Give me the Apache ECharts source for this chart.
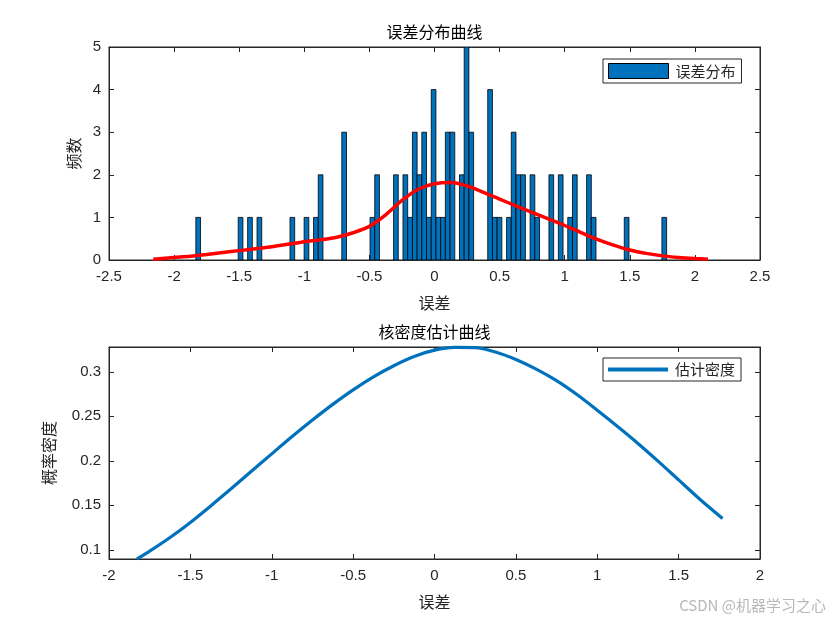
<!DOCTYPE html>
<html><head><meta charset="utf-8">
<script src="https://cdn.jsdelivr.net/npm/echarts@6/dist/echarts.min.js"></script>
<style>html,body{margin:0;padding:0;background:#fff}#c{width:840px;height:630px}</style>
</head><body><div id="c"></div>
<script>
// Histogram (误差分布): bin centers and counts
const binCenters = [-1.815, -1.4896, -1.4172, -1.3449, -1.0918, -0.9833, -0.911, -0.8748, -0.694, -0.4771, -0.4409, -0.2963, -0.224, -0.1878, -0.1516, -0.1155, -0.0793, -0.0432, -0.007, 0.0292, 0.0653, 0.1015, 0.1376, 0.21, 0.2461, 0.2823, 0.4269, 0.4631, 0.4992, 0.5716, 0.6077, 0.6439, 0.68, 0.7524, 0.7885, 0.897, 0.9693, 1.0416, 1.0778, 1.1863, 1.2224, 1.4756, 1.7648];
const binCounts  = [1, 1, 1, 1, 1, 1, 1, 2, 3, 1, 2, 2, 2, 1, 3, 2, 3, 1, 4, 1, 1, 3, 3, 2, 5, 3, 4, 1, 1, 1, 3, 2, 2, 2, 1, 2, 2, 1, 2, 2, 1, 1, 1];
const binWidth = 0.03616;

// Red fitted curve (top chart)
const fitX = [-2.16, -2.0, -1.875, -1.75, -1.625, -1.5, -1.375, -1.25, -1.125, -1.0, -0.875, -0.75, -0.625, -0.5, -0.375, -0.25, -0.125, 0.0, 0.125, 0.25, 0.375, 0.5, 0.625, 0.75, 0.875, 1.0, 1.125, 1.25, 1.375, 1.5, 1.625, 1.75, 1.875, 2.0, 2.1];
const fitY = [0.02, 0.06, 0.09, 0.13, 0.175, 0.22, 0.265, 0.31, 0.37, 0.43, 0.475, 0.535, 0.64, 0.79, 1.06, 1.40, 1.66, 1.79, 1.82, 1.74, 1.59, 1.43, 1.27, 1.115, 0.965, 0.81, 0.645, 0.485, 0.35, 0.235, 0.155, 0.097, 0.06, 0.035, 0.02];

// Kernel density (bottom chart)
const densX = [-1.829, -1.75, -1.625, -1.5, -1.375, -1.25, -1.125, -1.0, -0.875, -0.75, -0.625, -0.5, -0.375, -0.25, -0.125, 0.0, 0.125, 0.25, 0.375, 0.5, 0.625, 0.75, 0.875, 1.0, 1.125, 1.25, 1.375, 1.5, 1.625, 1.77];
const densY = [0.0897, 0.0986, 0.1139, 0.1308, 0.1493, 0.1686, 0.1882, 0.2078, 0.2272, 0.2458, 0.2634, 0.2797, 0.2943, 0.3068, 0.3171, 0.3243, 0.3274, 0.3272, 0.3222, 0.3138, 0.303, 0.29, 0.2744, 0.2568, 0.2385, 0.2195, 0.1994, 0.1785, 0.1577, 0.1352];

const densTicks = [0.1, 0.15, 0.2, 0.25, 0.3];

const AX = '#262626';
const LAT = '"Liberation Sans", Arial, sans-serif';
const CJK = '"Noto Sans CJK SC", sans-serif';

function xAx(grid, min, max, pos, name) {
  return {
    type: 'value', gridIndex: grid, min: min, max: max, interval: 0.5, position: pos,
    axisLine: { show: true, onZero: false, lineStyle: { color: AX, width: 1 } },
    axisTick: { show: true, inside: true, length: 5, lineStyle: { color: AX } },
    axisLabel: { show: pos === 'bottom', color: AX, fontSize: 15, fontFamily: LAT, margin: 9 },
    splitLine: { show: false },
    name: name || '', nameLocation: 'middle', nameGap: 35,
    nameTextStyle: { fontSize: 16, color: AX, fontFamily: CJK }
  };
}
function yAx(grid, min, max, pos, name, opts) {
  const a = {
    type: 'value', gridIndex: grid, min: min, max: max, position: pos,
    axisLine: { show: true, onZero: false, lineStyle: { color: AX, width: 1 } },
    axisTick: { show: true, inside: true, length: 5, lineStyle: { color: AX } },
    axisLabel: { show: pos === 'left', color: AX, fontSize: 15, fontFamily: LAT, margin: 8 },
    splitLine: { show: false },
    name: name || '', nameLocation: 'middle', nameRotate: 90,
    nameTextStyle: { fontSize: 16, color: AX, fontFamily: CJK }
  };
  return Object.assign(a, opts || {});
}

const chart = echarts.init(document.getElementById('c'), null, { renderer: 'canvas' });
chart.setOption({
  backgroundColor: '#fff',
  animation: false,
  title: [
    { text: '误差分布曲线', left: 434.5, textAlign: 'center', top: 24, padding: 0,
      textStyle: { fontSize: 16, fontWeight: 'normal', color: '#000', fontFamily: CJK } },
    { text: '核密度估计曲线', left: 434.5, textAlign: 'center', top: 324, padding: 0,
      textStyle: { fontSize: 16, fontWeight: 'normal', color: '#000', fontFamily: CJK } }
  ],
  legend: [
    { data: [{ name: '误差分布', icon: 'rect', itemStyle: { color: '#0072BD', borderColor: '#000', borderWidth: 1 } }],
      left: 603, top: 59, orient: 'vertical', itemWidth: 60, itemHeight: 15, itemGap: 5,
      padding: [4, 6, 4, 5], borderColor: '#262626', borderWidth: 1, backgroundColor: '#fff',
      textStyle: { fontSize: 15, color: AX, fontFamily: CJK, padding: [0, 0, 0, 2] } },
    { data: [{ name: '估计密度', icon: 'rect', itemStyle: { color: '#0072BD' } }],
      left: 603, top: 358, orient: 'vertical', itemWidth: 60, itemHeight: 4, itemGap: 5,
      padding: [4, 6, 4, 5], borderColor: '#262626', borderWidth: 1, backgroundColor: '#fff',
      textStyle: { fontSize: 15, color: AX, fontFamily: CJK, padding: [0, 0, 0, 2] } }
  ],
  graphic: [
    { type: 'text', right: 14, top: 598, silent: true,
      style: { text: 'CSDN @机器学习之心', fill: '#b8b8b8', font: '15px "Noto Sans CJK SC", sans-serif' } }
  ],
  grid: [
    { left: 109, top: 47, width: 651, height: 213, show: true, borderColor: AX, borderWidth: 1, backgroundColor: '#fff' },
    { left: 109, top: 347, width: 651, height: 212, show: true, borderColor: AX, borderWidth: 1, backgroundColor: '#fff' }
  ],
  xAxis: [
    xAx(0, -2.5, 2.5, 'bottom', '误差'),
    xAx(0, -2.5, 2.5, 'top'),
    xAx(1, -2, 2, 'bottom', '误差'),
    xAx(1, -2, 2, 'top')
  ],
  yAxis: [
    yAx(0, 0, 5, 'left', '频数', { interval: 1, nameGap: 27 }),
    yAx(0, 0, 5, 'right', '', { interval: 1 }),
    yAx(1, 0.0897, 0.3278, 'left', '概率密度', { nameGap: 52 }),
    yAx(1, 0.0897, 0.3278, 'right', '')
  ],
  series: [
    {
      name: '误差分布', type: 'custom', xAxisIndex: 0, yAxisIndex: 0, clip: true,
      itemStyle: { color: '#0072BD' },
      encode: { x: 0, y: 1 },
      data: binCenters.map((c, i) => [c, binCounts[i]]),
      renderItem: function (params, api) {
        const c = api.value(0), n = api.value(1);
        const p0 = api.coord([c - binWidth / 2, n]);
        const p1 = api.coord([c + binWidth / 2, 0]);
        return { type: 'rect',
          shape: { x: p0[0], y: p0[1], width: p1[0] - p0[0], height: p1[1] - p0[1] },
          style: { fill: '#0072BD', stroke: '#000', lineWidth: 0.8 } };
      },
      z: 2
    },
    {
      name: '拟合曲线', type: 'line', xAxisIndex: 0, yAxisIndex: 0,
      data: fitX.map((x, i) => [x, fitY[i]]),
      smooth: 0.3, symbol: 'none', showSymbol: false,
      lineStyle: { color: '#FF0000', width: 3.5 }, itemStyle: { color: '#FF0000' }, z: 3
    },
    {
      name: '估计密度', type: 'line', xAxisIndex: 2, yAxisIndex: 2,
      data: densX.map((x, i) => [x, densY[i]]),
      smooth: 0.3, symbol: 'none', showSymbol: false, clip: false,
      lineStyle: { color: '#0072BD', width: 3.2 }, itemStyle: { color: '#0072BD' }, z: 3
    }
  ]
});
chart.setOption({
  yAxis: [{}, {}, {
    axisLabel: { customValues: densTicks }, axisTick: { customValues: densTicks }
  }, {
    axisTick: { customValues: densTicks }
  }]
});
</script>
</body></html>
